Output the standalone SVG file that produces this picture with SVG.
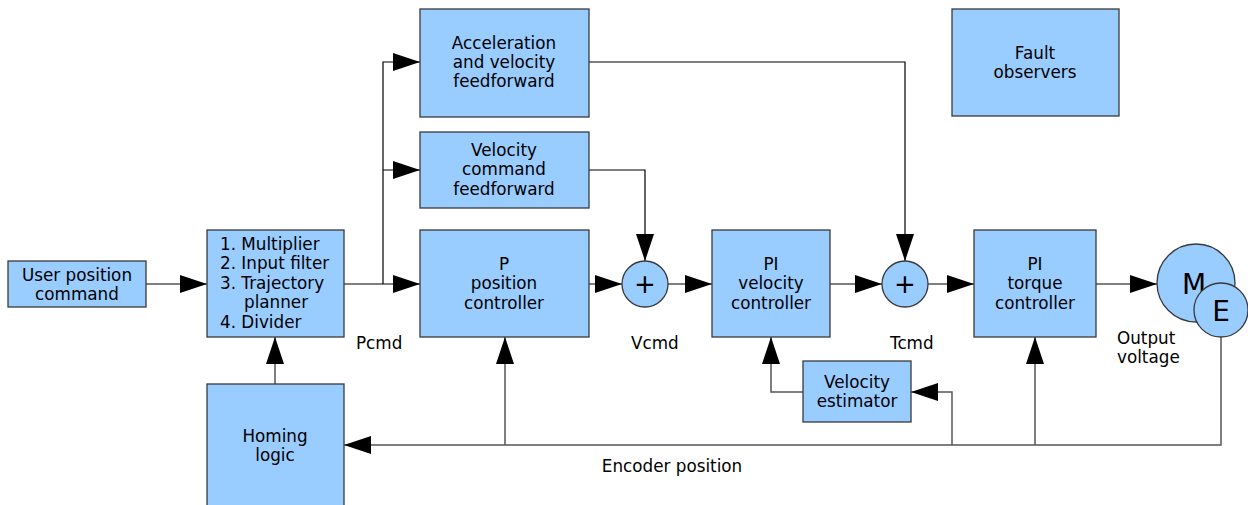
<svg xmlns="http://www.w3.org/2000/svg" width="1248" height="505" viewBox="0 0 1248 505">
<defs>
<marker id="ah" markerUnits="userSpaceOnUse" markerWidth="28" markerHeight="20" refX="27" refY="9" orient="auto">
<path d="M0,0 L27,9 L0,18 Z" fill="#000"/>
</marker>
<style>
.b{fill:#99ccff;stroke:#3a3a3a;stroke-width:1.3}
.c{fill:none;stroke:#000;stroke-width:1.2}
.g{fill:none;stroke:#555;stroke-width:1.5}
text{font-family:"DejaVu Sans","Liberation Sans",sans-serif;font-size:16.8px;fill:#000}
.m{text-anchor:middle}
</style>
</defs>
<rect width="1248" height="505" fill="#fff"/>
<g id="connectors">
<path class="g" d="M146,284 H207" marker-end="url(#ah)"/>
<path class="g" d="M275,384 V337" marker-end="url(#ah)"/>
<path class="g" d="M344,284 H420" marker-end="url(#ah)"/>
<path class="c" d="M383,284 V62 H420" marker-end="url(#ah)"/>
<path class="c" d="M383,170 H420" marker-end="url(#ah)"/>
<path class="g" d="M589,284 H622" marker-end="url(#ah)"/>
<path class="c" d="M589,170 H645 V261" marker-end="url(#ah)"/>
<path class="g" d="M668,284 H712" marker-end="url(#ah)"/>
<path class="c" d="M589,62 H905 V261" marker-end="url(#ah)"/>
<path class="g" d="M830,284 H882" marker-end="url(#ah)"/>
<path class="g" d="M928,284 H974" marker-end="url(#ah)"/>
<path class="g" d="M1096,284 H1157" marker-end="url(#ah)"/>
<path class="g" d="M1221,337 V445 H344" marker-end="url(#ah)"/>
<path class="g" d="M505,445 V337" marker-end="url(#ah)"/>
<path class="g" d="M1035,445 V337" marker-end="url(#ah)"/>
<path class="g" d="M952,445 V392 H911" marker-end="url(#ah)"/>
<path class="g" d="M803,392 H771 V337" marker-end="url(#ah)"/>
</g>
<g id="user">
<rect class="b" x="8" y="261" width="138" height="46"/>
<text class="m" x="77" y="281">User position</text>
<text class="m" x="77" y="300">command</text>
</g>
<g id="preproc">
<rect class="b" x="207" y="230" width="137" height="107"/>
<text x="220" y="250">1. Multiplier</text>
<text x="220" y="269">2. Input filter</text>
<text x="220" y="289">3. Trajectory</text>
<text x="244" y="308">planner</text>
<text x="220" y="328">4. Divider</text>
</g>
<g id="homing">
<rect class="b" x="207" y="384" width="137" height="125"/>
<text class="m" x="275" y="442">Homing</text>
<text class="m" x="275" y="461">logic</text>
</g>
<g id="accff">
<rect class="b" x="420" y="9" width="169" height="108"/>
<text class="m" x="504" y="49">Acceleration</text>
<text class="m" x="504" y="68">and velocity</text>
<text class="m" x="504" y="87">feedforward</text>
</g>
<g id="velff">
<rect class="b" x="420" y="132" width="169" height="76"/>
<text class="m" x="504" y="156">Velocity</text>
<text class="m" x="504" y="175">command</text>
<text class="m" x="504" y="195">feedforward</text>
</g>
<g id="posctrl">
<rect class="b" x="420" y="230" width="169" height="107"/>
<text class="m" x="504" y="270">P</text>
<text class="m" x="504" y="289">position</text>
<text class="m" x="504" y="309">controller</text>
</g>
<g id="sum1">
<circle class="b" cx="645" cy="284" r="23"/>
<text class="m" x="645" y="293" style="font-size:26px">+</text>
</g>
<g id="velctrl">
<rect class="b" x="712" y="230" width="118" height="107"/>
<text class="m" x="771" y="270">PI</text>
<text class="m" x="771" y="289">velocity</text>
<text class="m" x="771" y="309">controller</text>
</g>
<g id="sum2">
<circle class="b" cx="905" cy="284" r="23"/>
<text class="m" x="905" y="293" style="font-size:26px">+</text>
</g>
<g id="velest">
<rect class="b" x="803" y="361" width="108" height="61"/>
<text class="m" x="857" y="388">Velocity</text>
<text class="m" x="857" y="407">estimator</text>
</g>
<g id="torquectrl">
<rect class="b" x="974" y="230" width="122" height="107"/>
<text class="m" x="1035" y="270">PI</text>
<text class="m" x="1035" y="289">torque</text>
<text class="m" x="1035" y="309">controller</text>
</g>
<g id="motor">
<circle class="b" cx="1196" cy="283" r="39"/>
<text class="m" x="1194" y="294" style="font-size:28px">M</text>
</g>
<g id="encoder">
<circle class="b" cx="1221" cy="310" r="27"/>
<text class="m" x="1221" y="321" style="font-size:28px">E</text>
</g>
<g id="fault">
<rect class="b" x="952" y="9" width="167" height="107"/>
<text class="m" x="1035" y="59">Fault</text>
<text class="m" x="1035" y="78">observers</text>
</g>
<g id="labels">
<text x="356" y="349">Pcmd</text>
<text x="631" y="349">Vcmd</text>
<text x="890" y="349">Tcmd</text>
<text x="1117" y="344">Output</text>
<text x="1117" y="363">voltage</text>
<text class="m" x="672" y="472">Encoder position</text>
</g>
</svg>
